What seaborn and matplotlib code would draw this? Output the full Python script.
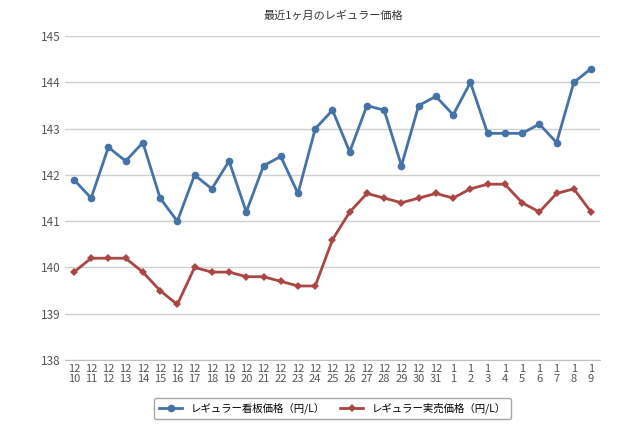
import matplotlib
matplotlib.use('Agg')
import matplotlib.pyplot as plt
import seaborn as sns
import pandas as pd

plt.rcParams['font.family'] = 'Noto Sans CJK JP'

dates = ['12\n10', '12\n11', '12\n12', '12\n13', '12\n14', '12\n15', '12\n16', '12\n17',
         '12\n18', '12\n19', '12\n20', '12\n21', '12\n22', '12\n23', '12\n24', '12\n25',
         '12\n26', '12\n27', '12\n28', '12\n29', '12\n30', '12\n31', '1\n1', '1\n2',
         '1\n3', '1\n4', '1\n5', '1\n6', '1\n7', '1\n8', '1\n9']
kanban = [141.9, 141.5, 142.6, 142.3, 142.7, 141.5, 141.0, 142.0, 141.7, 142.3, 141.2,
          142.2, 142.4, 141.6, 143.0, 143.4, 142.5, 143.5, 143.4, 142.2, 143.5, 143.7,
          143.3, 144.0, 142.9, 142.9, 142.9, 143.1, 142.7, 144.0, 144.3]
jitsubai = [139.9, 140.2, 140.2, 140.2, 139.9, 139.5, 139.2, 140.0, 139.9, 139.9, 139.8,
            139.8, 139.7, 139.6, 139.6, 140.6, 141.2, 141.6, 141.5, 141.4, 141.5, 141.6,
            141.5, 141.7, 141.8, 141.8, 141.4, 141.2, 141.6, 141.7, 141.2]
name1 = 'レギュラー看板価格（円/L）'
name2 = 'レギュラー実売価格（円/L）'

x = list(range(len(dates)))
df = pd.DataFrame({'x': x, name1: kanban, name2: jitsubai})

fig = plt.figure(figsize=(6.4, 4.26), dpi=100)
ax = fig.add_axes([0.102, 0.155, 0.835, 0.76])

sns.lineplot(data=df, x='x', y=name1, ax=ax, color='#4572A7', marker='o',
             markersize=5.5, markeredgewidth=0, linewidth=2, label=name1)
sns.lineplot(data=df, x='x', y=name2, ax=ax, color='#AA4643', marker='D',
             markersize=4, markeredgewidth=0, linewidth=2, label=name2)

ax.set_ylim(138, 145)
ax.set_xlim(-0.5, len(dates) - 0.5)
ax.set_yticks(range(138, 146))
ax.set_xticks(x)
ax.set_xticklabels(dates, fontsize=8, color='#555555', linespacing=0.95)
ax.tick_params(axis='y', labelsize=8.5, colors='#555555', length=0)
ax.tick_params(axis='x', length=0, pad=3)
ax.grid(axis='y', color='#d0d0d0', linewidth=1)
ax.set_axisbelow(True)
for s in ['top', 'right', 'left']:
    ax.spines[s].set_visible(False)
ax.spines['bottom'].set_color('#c0c0c0')
ax.set_xlabel('')
ax.set_ylabel('')

fig.text(0.52, 0.955, '最近1ヶ月のレギュラー価格', ha='center', fontsize=8, color='#333333')
ax.legend(loc='upper center', bbox_to_anchor=(0.5, -0.1), ncol=2, fontsize=7.5,
          frameon=True, edgecolor='#909090', fancybox=True, handlelength=2.2,
          columnspacing=1.5, borderpad=0.5)

fig.savefig('out.png', dpi=100)
